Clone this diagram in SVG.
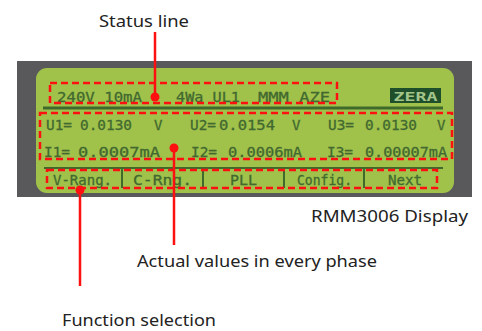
<svg xmlns="http://www.w3.org/2000/svg" width="482" height="331" viewBox="0 0 482 331">
<style>
.lcd{font-family:"DejaVu Sans Mono","Liberation Mono",monospace;font-size:14px;fill:#42692f;stroke:#42692f;stroke-width:0.3}
.lbl{font-family:"Noto Sans","Open Sans",sans-serif;font-size:17px;fill:#222}
.box{fill:none;stroke:#ff1010;stroke-width:2.5;stroke-dasharray:7 4}
.lead{stroke:#ff1010;stroke-width:2.5;fill:none}
.dot{fill:#ff1010}
.rule{stroke:#3f6a2c;fill:none}
</style>
<rect width="482" height="331" fill="#fff"/>
<g id="display">
<rect x="17" y="61" width="455" height="136" fill="#59595b"/>
<rect x="36" y="68" width="418" height="125" rx="11" fill="#a0c24b"/>
<line class="rule" x1="43" y1="108" x2="443" y2="108" stroke-width="3"/>
<line class="rule" x1="44" y1="168" x2="443" y2="168" stroke-width="2"/>
<g class="rule" stroke-width="2">
<line x1="122" y1="168" x2="122" y2="188"/>
<line x1="203" y1="168" x2="203" y2="188"/>
<line x1="284" y1="168" x2="284" y2="188"/>
<line x1="364" y1="168" x2="364" y2="188"/>
</g>
<rect x="390" y="88" width="51" height="15" fill="#1e4f2a"/>
<text x="415.5" y="100.5" text-anchor="middle" font-family="DejaVu Sans Mono,monospace" font-weight="bold" font-size="13" fill="#a4c58a" textLength="44" lengthAdjust="spacingAndGlyphs">ZERA</text>
<g class="lcd">
<text x="57" y="102" textLength="85" lengthAdjust="spacingAndGlyphs">240V 10mA</text>
<text x="176" y="102" textLength="64" lengthAdjust="spacingAndGlyphs">4Wa UL1</text>
<text x="258" y="102" textLength="72" lengthAdjust="spacingAndGlyphs">MMM AZE</text>
<text x="46" y="130" textLength="26" lengthAdjust="spacingAndGlyphs">U1=</text>
<text x="80" y="130" textLength="52" lengthAdjust="spacingAndGlyphs">0.0130</text>
<text x="154" y="130">V</text>
<text x="190" y="130" textLength="26" lengthAdjust="spacingAndGlyphs">U2=</text>
<text x="219" y="130" textLength="56" lengthAdjust="spacingAndGlyphs">0.0154</text>
<text x="292" y="130">V</text>
<text x="328" y="130" textLength="26" lengthAdjust="spacingAndGlyphs">U3=</text>
<text x="365" y="130" textLength="52" lengthAdjust="spacingAndGlyphs">0.0130</text>
<text x="437" y="130">V</text>
<text x="44" y="157" textLength="26" lengthAdjust="spacingAndGlyphs">I1=</text>
<text x="78" y="157" textLength="82" lengthAdjust="spacingAndGlyphs">0.0007mA</text>
<text x="191" y="157" textLength="26" lengthAdjust="spacingAndGlyphs">I2=</text>
<text x="228" y="157" textLength="74" lengthAdjust="spacingAndGlyphs">0.0006mA</text>
<text x="327" y="157" textLength="26" lengthAdjust="spacingAndGlyphs">I3=</text>
<text x="365" y="157" textLength="82" lengthAdjust="spacingAndGlyphs">0.00007mA</text>
<text x="53" y="185" textLength="59" lengthAdjust="spacingAndGlyphs">V-Rang.</text>
<text x="133" y="185" textLength="59" lengthAdjust="spacingAndGlyphs">C-Rng.</text>
<text x="230" y="185" textLength="27" lengthAdjust="spacingAndGlyphs">PLL</text>
<text x="297" y="185" textLength="55" lengthAdjust="spacingAndGlyphs">Config.</text>
<text x="388" y="185" textLength="34" lengthAdjust="spacingAndGlyphs">Next</text>
</g>
</g>
<g id="status-box"><rect class="box" x="50" y="83" width="287" height="20"/></g>
<g id="values-box"><rect class="box" x="40" y="113" width="412" height="46"/></g>
<g id="function-box"><rect class="box" x="47" y="170" width="390" height="18"/></g>
<g id="connectors">
<line class="lead" x1="155" y1="32" x2="155" y2="97"/>
<circle class="dot" cx="155" cy="97" r="4.5"/>
<line class="lead" x1="174" y1="148" x2="174" y2="245"/>
<circle class="dot" cx="174" cy="148" r="4.5"/>
<line class="lead" x1="80" y1="190" x2="80" y2="286"/>
<circle class="dot" cx="80" cy="190" r="4.5"/>
</g>
<g id="labels">
<text class="lbl" x="99" y="27" textLength="90" lengthAdjust="spacingAndGlyphs">Status line</text>
<text class="lbl" x="311" y="222" textLength="157" lengthAdjust="spacingAndGlyphs">RMM3006 Display</text>
<text class="lbl" x="137" y="267" textLength="240" lengthAdjust="spacingAndGlyphs">Actual values in every phase</text>
<text class="lbl" x="62" y="326" textLength="154" lengthAdjust="spacingAndGlyphs">Function selection</text>
</g>
</svg>
